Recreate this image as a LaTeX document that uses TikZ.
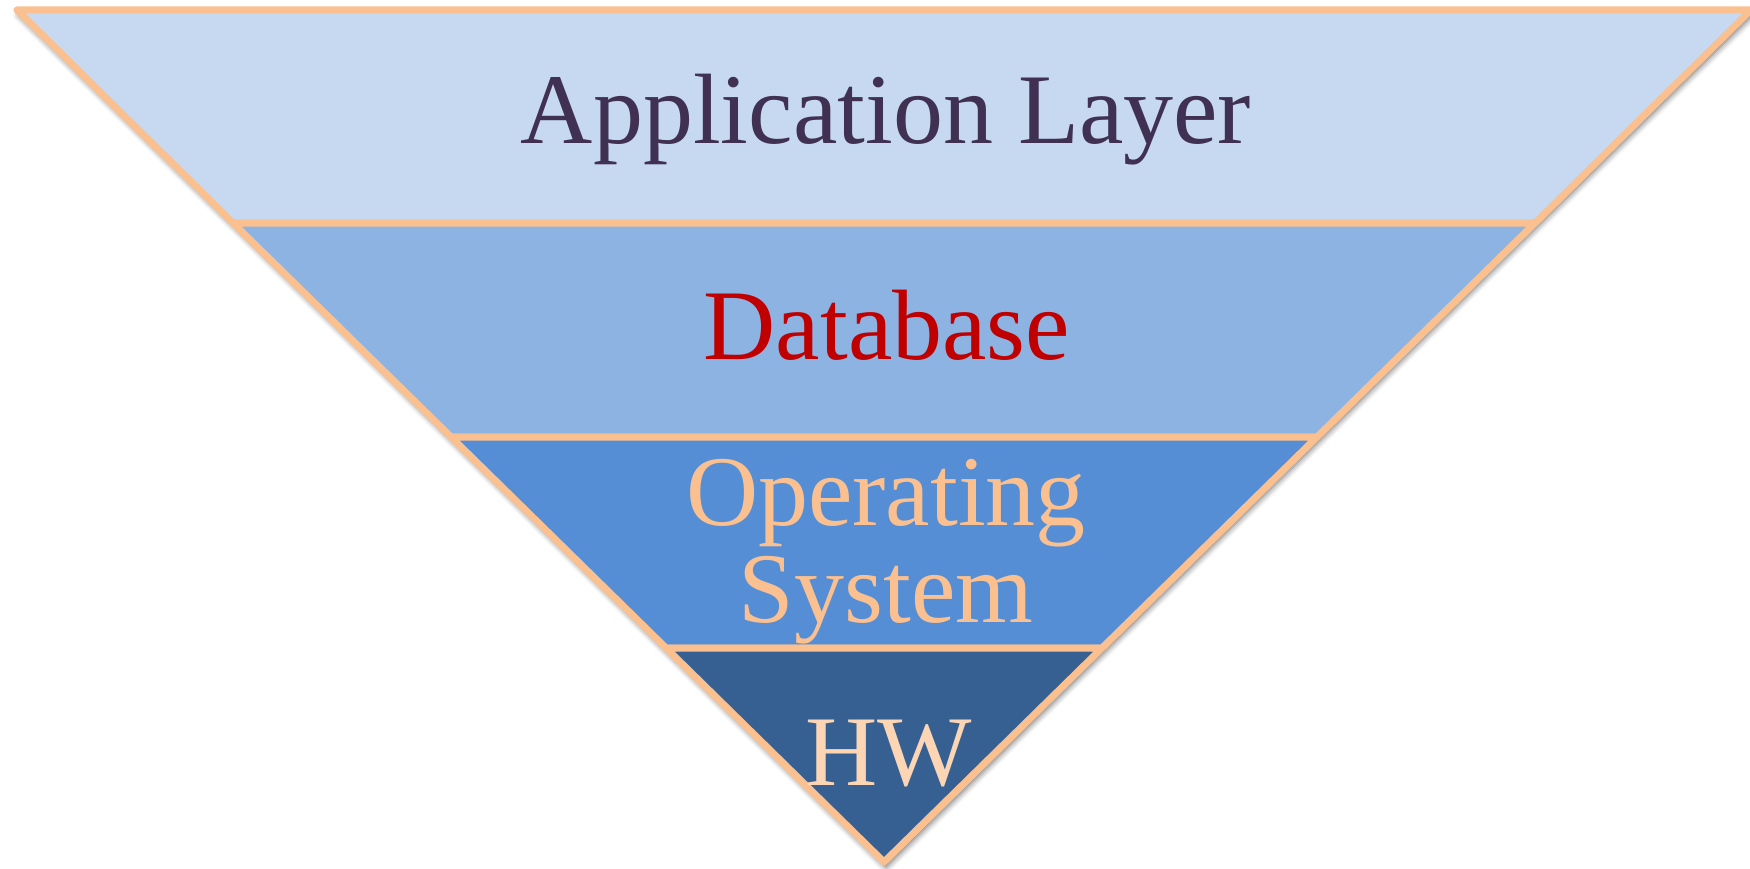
\documentclass[tikz,border=0pt]{standalone}
\usepackage{fontspec}
\setmainfont{Liberation Serif}
\usetikzlibrary{shadows.blur}
\definecolor{edgeorange}{HTML}{FAC090}
\definecolor{layerA}{HTML}{C6D9F0}
\definecolor{layerB}{HTML}{8DB3E2}
\definecolor{layerC}{HTML}{558ED5}
\definecolor{layerD}{HTML}{366092}
\definecolor{textA}{HTML}{403152}
\definecolor{textB}{HTML}{C00000}
\definecolor{textC}{HTML}{FAC090}
\definecolor{textD}{HTML}{FCD5B4}
\tikzset{
  layer/.style={draw=edgeorange, line width=7pt, line join=round},
  label/.style={font=\fontsize{100}{97}\selectfont, inner sep=0pt, anchor=base, align=center}
}
\begin{document}
\begin{tikzpicture}[x=1pt, y=-1pt]
  \useasboundingbox (0,0) rectangle (1750,869);
  % soft shadow behind the whole funnel
  \path[fill=white, blur shadow={shadow xshift=2pt, shadow yshift=-5pt, shadow blur radius=6pt, shadow opacity=60}]
    (17,10) -- (1751,10) -- (884,862) -- cycle;
  % the four layers, top to bottom
  \path[layer, fill=layerA] (17,10) -- (1751,10) -- (1535,223) -- (233,223) -- cycle;
  \path[layer, fill=layerB] (233,223) -- (1535,223) -- (1317,437) -- (451,437) -- cycle;
  \path[layer, fill=layerC] (451,437) -- (1317,437) -- (1102,648) -- (666,648) -- cycle;
  \path[layer, fill=layerD] (666,648) -- (1102,648) -- (884,862) -- cycle;
  % layer captions (a multi-line node sits on its last baseline)
  \node[label, text=textA] (app) at (886,144) {Application Layer};
  \node[label, text=textB] (db) at (887,359) {Database};
  \node[label, text=textC] (os) at (886,622) {Operating\\System};
  \node[label, text=textD] (hw) at (889,785) {HW};
\end{tikzpicture}
\end{document}
